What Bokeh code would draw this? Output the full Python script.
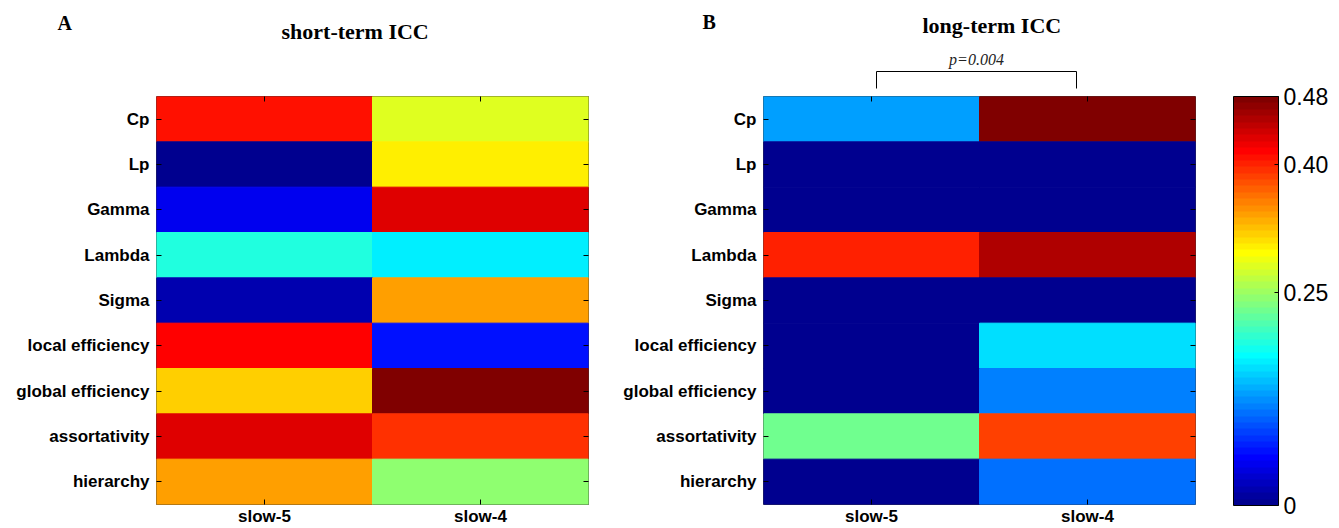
import numpy as np
from bokeh.plotting import figure
from bokeh.models import (ColumnDataSource, LinearColorMapper, ColorBar, FixedTicker,
                          CategoricalAxis, FactorRange, Range1d)
from bokeh.layouts import row, column
from bokeh.core.properties import value
from bokeh.transform import transform
from bokeh.embed import file_html
from bokeh.resources import INLINE

# ---------------- data ----------------
metrics = ["Cp", "Lp", "Gamma", "Lambda", "Sigma", "local efficiency",
           "global efficiency", "assortativity", "hierarchy"]
bands = ["slow-5", "slow-4"]
short_slow5 = [0.409, 0.000, 0.049, 0.191, 0.019, 0.416, 0.319, 0.431, 0.341]
short_slow4 = [0.281, 0.304, 0.431, 0.169, 0.341, 0.064, 0.476, 0.394, 0.244]
long_slow5 = [0.131, 0.000, 0.000, 0.401, 0.000, 0.000, 0.000, 0.229, 0.000]
long_slow4 = [0.476, 0.000, 0.000, 0.454, 0.000, 0.161, 0.116, 0.386, 0.109]
cbar_ticks = [0, 0.25, 0.40, 0.48]
cbar_labels = ["0", "0.25", "0.40", "0.48"]
vmin, vmax = 0.0, 0.48
titles = ["short-term ICC", "long-term ICC"]
letters = ["A", "B"]
p_text = "p=0.004"

# ---------------- jet colormap (64) ----------------
def jet(m=64):
    n = int(np.ceil(m / 4))
    u = np.concatenate([np.arange(1, n + 1) / n, np.ones(n - 1), np.arange(n, 0, -1) / n])
    g = int(np.ceil(n / 2)) - (1 if m % 4 == 1 else 0) + np.arange(1, len(u) + 1)
    r = g + n
    b = g - n
    J = np.zeros((m, 3))
    k = r <= m
    J[r[k] - 1, 0] = u[k]
    k = g <= m
    J[g[k] - 1, 1] = u[k]
    k = b >= 1
    J[b[k] - 1, 2] = u[k]
    return ["#%02x%02x%02x" % tuple(int(round(c * 255)) for c in rr) for rr in J]

mapper = LinearColorMapper(palette=jet(64), low=vmin, high=vmax)

# ---------------- layout constants ----------------
TOTAL_H = 528
HEAD_H = 90
H = TOTAL_H - HEAD_H
TOP = 6
BOTTOM = 24
FRAME_H = H - TOP - BOTTOM
FRAME_W = 432
LEFT_A, RIGHT_A = 156, 29
LEFT_B, RIGHT_B = 146, 20
WA = LEFT_A + FRAME_W + RIGHT_A
WB = LEFT_B + FRAME_W + RIGHT_B
WC = 120
CB_X = 18

SANS = "Liberation Sans"
SERIF = "Liberation Serif"


def heat(v5, v4, left_border, right_border):
    p = figure(x_range=FactorRange(*bands), y_range=FactorRange(*metrics[::-1]),
               width=left_border + FRAME_W + right_border, height=H,
               min_border_left=left_border, min_border_right=right_border,
               min_border_top=TOP, min_border_bottom=BOTTOM,
               output_backend="svg", toolbar_location=None, tools="")
    xs, ys, vs = [], [], []
    for m, a, b in zip(metrics, v5, v4):
        xs += bands
        ys += [m, m]
        vs += [a, b]
    src = ColumnDataSource(dict(x=xs, y=ys, v=vs))
    p.rect(x="x", y="y", width=1, height=1, source=src,
           fill_color=transform("v", mapper), line_color=transform("v", mapper), line_width=1)
    p.grid.visible = False
    p.outline_line_color = "#3a3a3a"
    p.outline_line_width = 1

    for ax in (p.xaxis[0], p.yaxis[0]):
        ax.axis_line_color = None
        ax.major_tick_in = 5
        ax.major_tick_out = 0
        ax.major_tick_line_color = "black"
        ax.major_label_text_font = SANS
        ax.major_label_text_font_style = "bold"
        ax.major_label_text_font_size = "17px"
        ax.major_label_text_color = "black"
    p.xaxis[0].major_label_standoff = 2
    p.yaxis[0].major_label_standoff = 7

    # tick-only mirror axes (inward ticks on the right and top edges, no labels)
    for side in ("right", "above"):
        ax = CategoricalAxis(axis_line_color=None, major_tick_in=5, major_tick_out=0,
                             major_tick_line_color="black",
                             major_label_text_font_size="1px", major_label_text_color=None,
                             major_label_standoff=0)
        p.add_layout(ax, side)
    return p


pA = heat(short_slow5, short_slow4, LEFT_A, RIGHT_A)
pB = heat(long_slow5, long_slow4, LEFT_B, RIGHT_B)

# ---------------- colour bar in its own full-height strip ----------------
pC = figure(width=WC, height=TOTAL_H, x_range=Range1d(0, 1), y_range=Range1d(0, 1),
            min_border=0, x_axis_type=None, y_axis_type=None,
            output_backend="svg", toolbar_location=None, tools="")
pC.grid.visible = False
pC.outline_line_color = None
cb = ColorBar(color_mapper=mapper, ticker=FixedTicker(ticks=cbar_ticks),
              major_label_overrides={t: l for t, l in zip(cbar_ticks, cbar_labels)},
              width=45, height=FRAME_H + 1, location=(CB_X, BOTTOM - 1), margin=0, padding=0,
              bar_line_color="black", bar_line_width=1,
              major_tick_line_color="black", major_tick_in=4, major_tick_out=0,
              minor_tick_line_color=None,
              major_label_text_font=SANS, major_label_text_font_size="23px",
              major_label_text_color="black", label_standoff=5,
              background_fill_color=None, border_line_color=None)
pC.add_layout(cb, "center")

# ---------------- header strip (titles, panel letters, significance bracket) ----------------
HW = WA + WB
hd = figure(width=HW, height=HEAD_H, x_range=Range1d(0, HW), y_range=Range1d(HEAD_H, 0),
            min_border=0, x_axis_type=None, y_axis_type=None,
            output_backend="svg", toolbar_location=None, tools="")
hd.grid.visible = False
hd.outline_line_color = None

fa_left = LEFT_A
fb_left = WA + LEFT_B
colw = FRAME_W / len(bands)

hd.text(x=[fa_left - 99, fb_left - 61], y=[22, 21.5], text=letters,
        text_font=value(SERIF), text_font_style="bold", text_font_size="20px",
        text_align="left", text_baseline="middle", text_color="black")
hd.text(x=[fa_left + 125, fb_left + 159], y=[31, 25], text=titles,
        text_font=value(SERIF), text_font_style="bold", text_font_size="22px",
        text_align="left", text_baseline="middle", text_color="black")

bx0 = fb_left + 0.5 * colw + 5
bx1 = fb_left + 1.5 * colw - 11
hd.line(x=[bx0, bx0, bx1, bx1], y=[88, 71, 71, 88], line_color="black", line_width=1)
hd.text(x=[(bx0 + bx1) / 2], y=[59], text=[p_text],
        text_font=value(SERIF), text_font_style="italic", text_font_size="16px",
        text_align="center", text_baseline="middle", text_color="#222222")

layout = row(column(hd, row(pA, pB)), pC)
open("out.html", "w").write(file_html(layout, INLINE))
